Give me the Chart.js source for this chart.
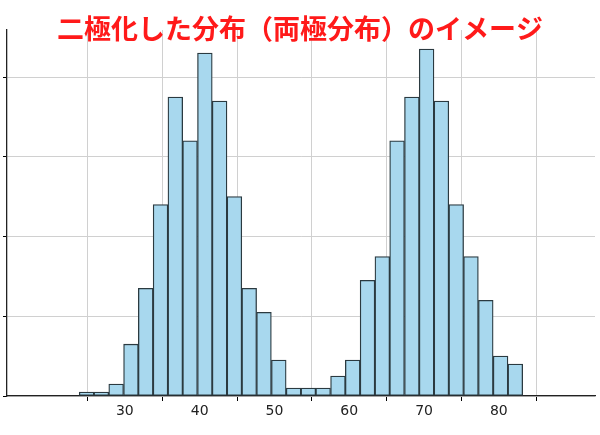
<!DOCTYPE html>
<html><head><meta charset="utf-8">
<script src="https://cdn.jsdelivr.net/npm/chart.js@4/dist/chart.umd.min.js"></script>
<style>html,body{margin:0;padding:0;background:#fff}#w{width:600px;height:435px}</style>
</head><body><div id="w"><canvas id="c"></canvas></div>
<script>
const titleText = "二極化した分布（両極分布）のイメージ";
const binCenters = [24.89,26.86,28.84,30.82,32.79,34.77,36.75,38.72,40.70,42.67,44.65,46.63,48.60,50.58,52.56,54.53,56.51,58.49,60.46,62.44,64.42,66.39,68.37,70.34,72.32,74.30,76.27,78.25,80.23,82.20];
const counts = [1,1,3,13,27,48,75,64,86,74,50,27,21,9,2,2,2,5,9,29,35,64,75,87,74,48,35,24,10,8];
const xTicks = [30,40,50,60,70,80];

const titlePlugin = {id:'t', afterDraw(ch){const c=ch.ctx;c.save();c.font='bold 27px "Noto Sans CJK JP"';c.fillStyle='#ff1a1a';c.textAlign='center';c.textBaseline='middle';c.fillText(titleText,300,29);c.restore();}};

new Chart(document.getElementById('c'),{
  type:'bar',
  data:{datasets:[{data:binCenters.map((x,i)=>({x,y:counts[i]})),backgroundColor:'#a8d8ee',borderColor:'#2b3a40',borderWidth:1.3,barPercentage:1,categoryPercentage:1,borderSkipped:false}]},
  options:{responsive:true,maintainAspectRatio:false,animation:false,
    layout:{padding:{left:0,right:5,top:30,bottom:0}},
    plugins:{legend:{display:false},tooltip:{enabled:false}},
    scales:{
      x:{type:'linear',min:20.8,max:86.3,
        afterBuildTicks(a){a.ticks=xTicks.map(v=>({value:v}));},
        afterFit(a){a.height=39;},
        grid:{color:'#d0d0d0',borderDash:[3,3],tickLength:5,tickColor:'#000',drawOnChartArea:true},
        border:{color:'#222',width:1.3},
        ticks:{color:'#222',font:{size:14,family:'DejaVu Sans'},maxRotation:0,padding:2}},
      y:{min:0,max:91.8,
        afterBuildTicks(a){a.ticks=[0,20,40,60,80].map(v=>({value:v}));},
        afterFit(a){a.width=7;},
        grid:{color:'#d0d0d0',borderDash:[3,3],tickLength:4,tickColor:'#000'},
        border:{color:'#222',width:1.3},
        ticks:{display:false}}
    }},
  plugins:[titlePlugin]
});
</script></body></html>
